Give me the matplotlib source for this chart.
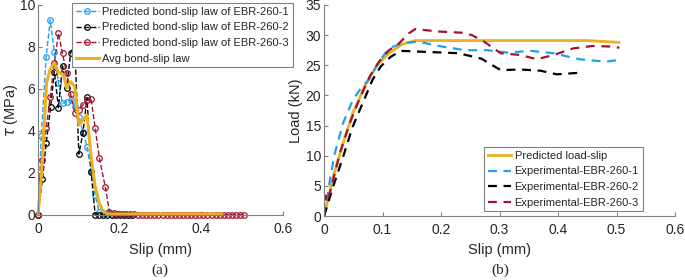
import matplotlib
matplotlib.use('Agg')
import matplotlib.pyplot as plt

# Цвета в стиле MATLAB
blue = '#1fa0f5'
red = '#a2142f'
yellow = '#edb120'
black = '#000000'

# ---- Панель (a): закон сцепления-проскальзывания ----
slip_1 = [0, 0.008, 0.02, 0.03, 0.04, 0.05, 0.06, 0.07, 0.08, 0.09, 0.10, 0.11, 0.12,
          0.13, 0.14, 0.15, 0.16, 0.17, 0.18, 0.19, 0.20, 0.21, 0.22, 0.23]
tau_1 = [0, 3.76, 7.54, 9.29, 7.78, 6.27, 5.32, 5.40, 5.48, 5.2, 4.68, 3.97, 3.25,
         2.1, 0.95, 0.12, 0.1, 0.08, 0.06, 0.05, 0.04, 0.03, 0.02, 0.02]

slip_2 = [0, 0.011, 0.02, 0.031, 0.04, 0.05, 0.06, 0.07, 0.08, 0.09, 0.10, 0.11, 0.12,
          0.13, 0.14, 0.15, 0.16, 0.17, 0.18, 0.19, 0.20, 0.21, 0.22, 0.23]
tau_2 = [0, 1.71, 3.41, 5.16, 6.83, 5.11, 7.10, 6.03, 7.73, 8.14, 2.90, 3.89, 5.60,
         2.06, 0.0, 0.0, 0.0, 0.0, 0.0, 0.0, 0.0, 0.0, 0.0, 0.0]

slip_3 = [0, 0.009, 0.02, 0.03, 0.04, 0.05, 0.06, 0.07, 0.08, 0.09, 0.10, 0.11, 0.12,
          0.13, 0.14, 0.15, 0.165, 0.175, 0.185, 0.195, 0.205, 0.215, 0.225, 0.235,
          0.245, 0.255, 0.265, 0.275, 0.285, 0.295, 0.305, 0.315, 0.325, 0.335,
          0.345, 0.355, 0.365, 0.375, 0.385, 0.395, 0.405, 0.415, 0.425, 0.435,
          0.445, 0.455, 0.465, 0.475, 0.485, 0.495, 0.505]
tau_3 = [0, 2.62, 4.13, 5.63, 7.22, 8.65, 7.70, 6.75, 5.75, 4.84, 5.00, 5.24, 5.48,
         5.51, 4.16, 2.73, 1.32, 0.16, 0.08, 0.06, 0.05, 0.04, 0.03, 0.03,
         0.02, 0.02, 0.02, 0.02, 0.02, 0.02, 0.02, 0.02, 0.02, 0.02,
         0.01, 0.01, 0.01, 0.01, 0.01, 0.01, 0.01, 0.01, 0.01, 0.01,
         0.01, 0.01, 0.01, 0.01, 0.01, 0.01, 0.01]

slip_avg = [0, 0.009, 0.014, 0.021, 0.029, 0.04, 0.05, 0.062, 0.07, 0.08, 0.09, 0.10,
            0.11, 0.12, 0.13, 0.14, 0.15, 0.16, 0.17, 0.45]
tau_avg = [0, 1.98, 3.9, 6.3, 6.9, 7.25, 6.78, 6.70, 6.08, 6.35, 6.11, 4.29,
           4.52, 4.76, 2.78, 1.35, 0.56, 0.16, 0.05, 0.05]

# ---- Панель (b): нагрузка-проскальзывание ----
pred_slip = [0, 0.0157, 0.0326, 0.049, 0.069, 0.089, 0.111, 0.134, 0.156, 0.30, 0.45, 0.504]
pred_load = [0, 6.5, 12.05, 17.0, 21.4, 24.8, 27.0, 28.5, 29.1, 29.1, 29.1, 28.8]

exp1_slip = [0, 0.004, 0.01, 0.0185, 0.0326, 0.049, 0.061, 0.078, 0.094, 0.111, 0.134,
             0.162, 0.196, 0.241, 0.28, 0.314, 0.353, 0.392, 0.437, 0.482, 0.505]
exp1_load = [0, 1.6, 6.0, 10.4, 15.4, 19.2, 20.9, 22.8, 25.6, 27.8, 28.7,
             28.9, 28.2, 27.5, 27.5, 27.1, 27.4, 27.0, 26.0, 25.6, 25.9]

exp2_slip = [0, 0.0157, 0.0326, 0.049, 0.066, 0.083, 0.097, 0.114, 0.131, 0.155,
             0.23, 0.269, 0.302, 0.336, 0.37, 0.398, 0.443]
exp2_load = [0, 4.9, 9.8, 14.8, 18.7, 22.6, 24.8, 26.4, 27.4, 27.3,
             27.0, 26.1, 24.2, 24.3, 24.1, 23.5, 23.8]

exp3_slip = [0, 0.003, 0.0045, 0.01, 0.027, 0.044, 0.061, 0.078, 0.094, 0.111, 0.128,
             0.145, 0.156, 0.196, 0.236, 0.253, 0.274, 0.302, 0.336, 0.364, 0.392,
             0.426, 0.459, 0.494, 0.505]
exp3_load = [0, 3.4, 2.4, 3.8, 10.4, 15.4, 19.5, 23.1, 25.6, 27.5, 28.6,
             30.3, 31.0, 30.6, 30.4, 30.0, 28.9, 27.0, 26.7, 26.0, 26.7,
             27.8, 28.2, 28.1, 27.9]

plt.rcParams['font.family'] = 'Liberation Sans'
plt.rcParams['font.size'] = 10
text_color = '#262626'
axis_color = '#808080'

fig = plt.figure(figsize=(6.85, 2.8), dpi=100)
ax1 = fig.add_axes([38 / 685, 1 - 215 / 280, 245 / 685, 210 / 280])
ax2 = fig.add_axes([324 / 685, 1 - 216 / 280, 351 / 685, 211 / 280])


def style_axes(ax):
    for side in ['top', 'right']:
        ax.spines[side].set_visible(False)
    for side in ['left', 'bottom']:
        ax.spines[side].set_color(axis_color)
        ax.spines[side].set_linewidth(0.8)
    ax.tick_params(direction='in', length=3, color=axis_color, labelcolor=text_color,
                   labelsize=10, width=0.8)
    ax.tick_params(axis='x', pad=5)
    ax.tick_params(axis='y', pad=2)


def style_legend(leg):
    leg.get_frame().set_linewidth(0.8)
    for t in leg.get_texts():
        t.set_color(text_color)


leg_kw = dict(bbox_transform=fig.transFigure, fontsize=8, frameon=True, fancybox=False,
              edgecolor=axis_color, framealpha=1, borderpad=0.35, labelspacing=0.5,
              handlelength=2.1, handletextpad=0.3, borderaxespad=0)

# Панель (a)
marker_kw = dict(marker='o', markersize=4, markerfacecolor='none', markeredgewidth=0.9)
ax1.plot(slip_1, tau_1, '--', color=blue, lw=1.0, label='Predicted bond-slip law of EBR-260-1',
         clip_on=False, **marker_kw)
ax1.plot(slip_2, tau_2, '--', color=black, lw=1.0, label='Predicted bond-slip law of EBR-260-2',
         clip_on=False, **marker_kw)
ax1.plot(slip_3, tau_3, '--', color=red, lw=1.0, label='Predicted bond-slip law of EBR-260-3',
         clip_on=False, **marker_kw)
ax1.plot(slip_avg, tau_avg, '-', color=yellow, lw=2.2, label='Avg bond-slip law', clip_on=False)
ax1.set_xlim(0, 0.6)
ax1.set_ylim(0, 10)
ax1.set_xticks([0, 0.2, 0.4, 0.6])
ax1.set_xticklabels(['0', '0.2', '0.4', '0.6'])
ax1.set_yticks([0, 2, 4, 6, 8, 10])
ax1.set_yticklabels(['0', '2', '4', '6', '8', '10'])
style_axes(ax1)
ax1.set_xlabel('Slip (mm)', fontsize=10.5, color=text_color)
ax1.xaxis.set_label_coords(0.5, -(250 - 215) / 210, transform=ax1.transAxes)
ax1.set_ylabel(r'$\tau$ (MPa)', fontsize=10.5, color=text_color)
ax1.yaxis.set_label_coords(-(38 - 11) / 245, 0.5)
ax1.yaxis.label.set_va('center')
ax1.xaxis.label.set_va('center')
leg1 = ax1.legend(loc='upper right', bbox_to_anchor=(293 / 685, 1 - 3 / 280), **leg_kw)
style_legend(leg1)

# Панель (b)
ax2.plot(pred_slip, pred_load, '-', color=yellow, lw=2.0, label='Predicted load-slip')
ax2.plot(exp1_slip, exp1_load, '--', color=blue, lw=1.6, dashes=(4, 3), label='Experimental-EBR-260-1')
ax2.plot(exp2_slip, exp2_load, '--', color=black, lw=1.6, dashes=(4, 3), label='Experimental-EBR-260-2')
ax2.plot(exp3_slip, exp3_load, '--', color=red, lw=1.6, dashes=(4, 3), label='Experimental-EBR-260-3')
ax2.set_xlim(0, 0.6)
ax2.set_ylim(0, 35)
ax2.set_xticks([0, 0.1, 0.2, 0.3, 0.4, 0.5, 0.6])
ax2.set_xticklabels(['0', '0.1', '0.2', '0.3', '0.4', '0.5', '0.6'])
ax2.set_yticks([0, 5, 10, 15, 20, 25, 30, 35])
style_axes(ax2)
ax2.set_xlabel('Slip (mm)', fontsize=10.5, color=text_color)
ax2.xaxis.set_label_coords(0.5, -(250 - 216) / 211, transform=ax2.transAxes)
ax2.set_ylabel('Load (kN)', fontsize=10.5, color=text_color)
ax2.yaxis.set_label_coords(-(324 - 296) / 351, 0.5)
ax2.yaxis.label.set_va('center')
ax2.xaxis.label.set_va('center')
leg2 = ax2.legend(loc='upper left', bbox_to_anchor=(484 / 685, 1 - 147 / 280), **leg_kw)
style_legend(leg2)

# Подписи панелей
fig.text(160 / 685, 1 - 270 / 280, '(a)', ha='center', va='center', fontsize=11,
         family='Liberation Serif', color=text_color)
fig.text(500 / 685, 1 - 270 / 280, '(b)', ha='center', va='center', fontsize=11,
         family='Liberation Serif', color=text_color)

fig.savefig('out.png', dpi=100)
